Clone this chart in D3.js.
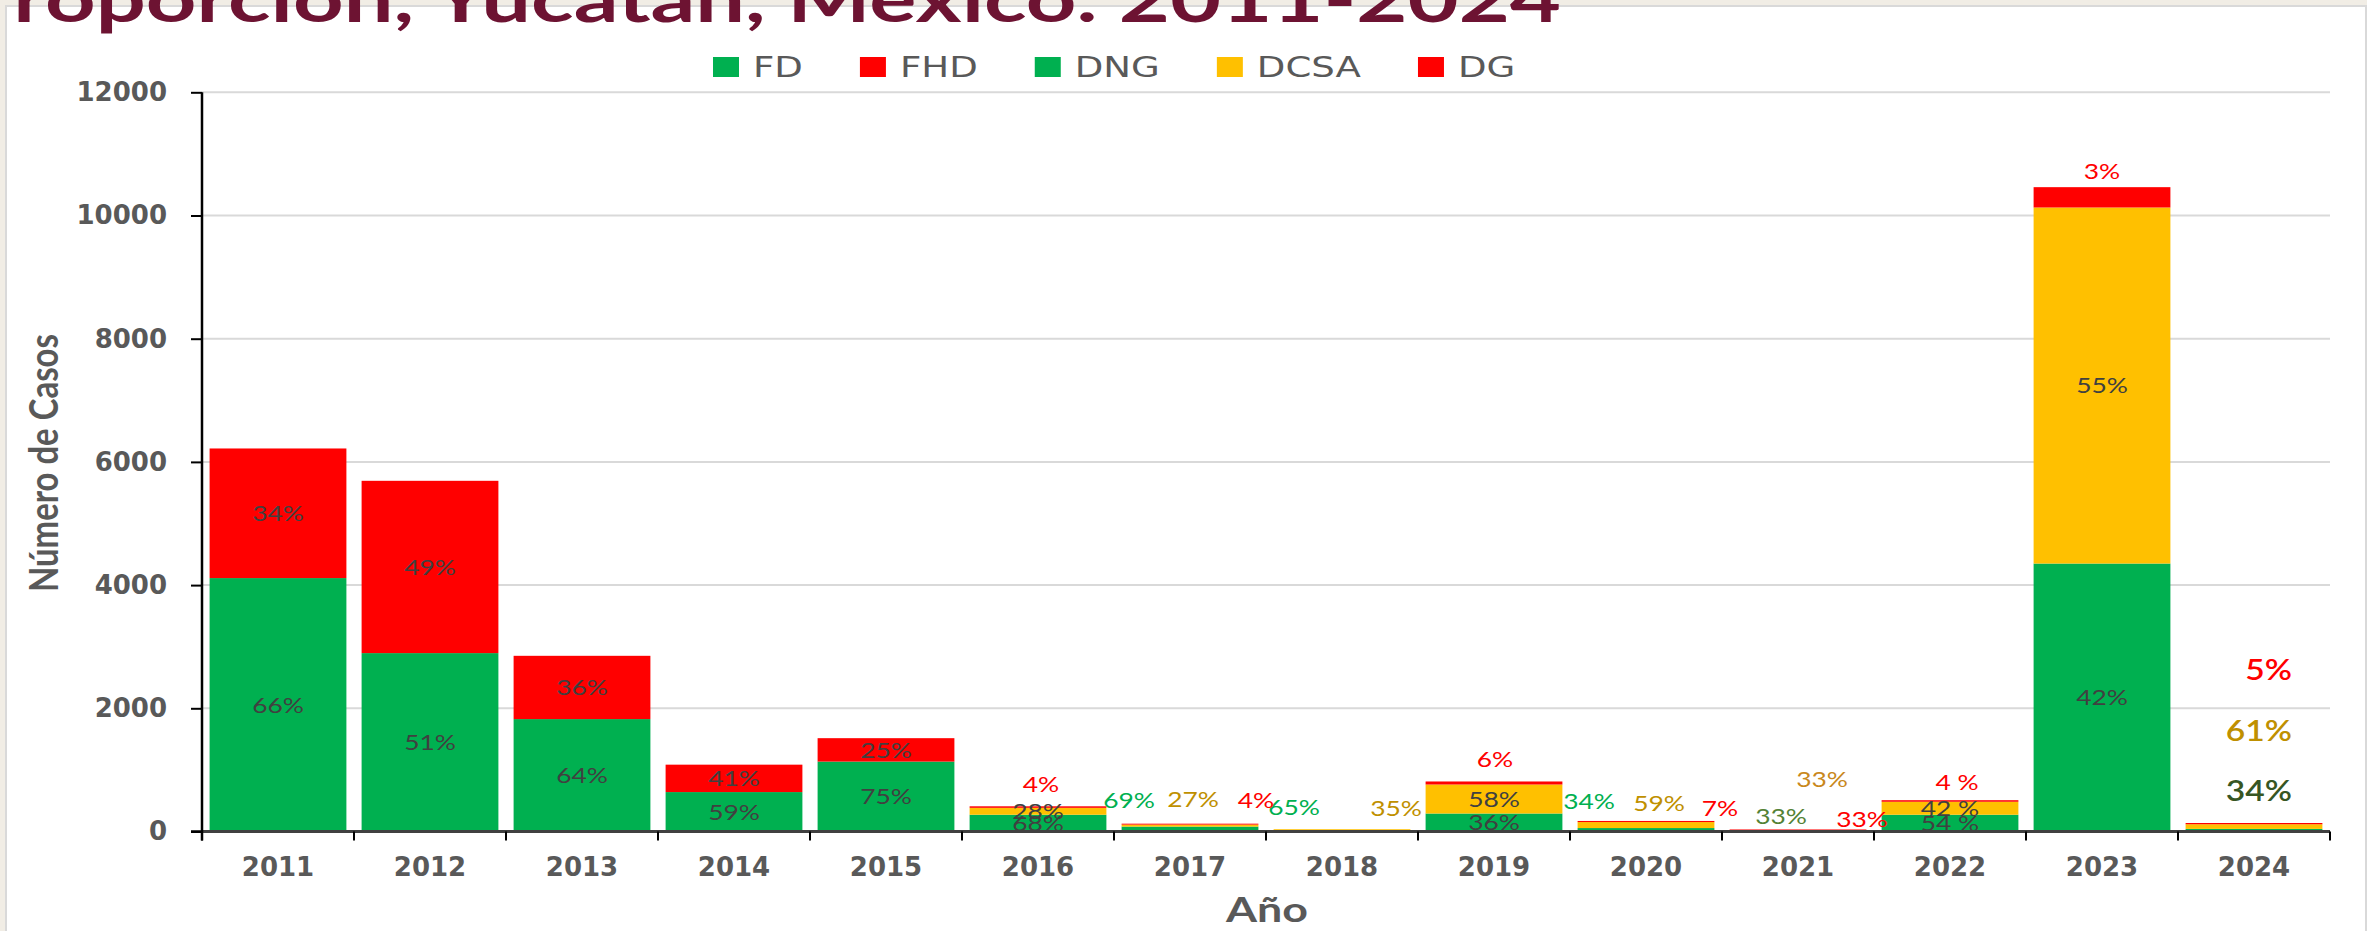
<!DOCTYPE html>
<html>
<head>
<meta charset="utf-8">
<script src="https://cdn.jsdelivr.net/npm/d3@7"></script>
<style>
  body { margin: 0; background: #fff; }
  svg { display: block; }
</style>
</head>
<body>
<div id="chart"></div>
<script>
// Casos por año, apilados por clasificación
const years = ["2011", "2012", "2013", "2014", "2015", "2016", "2017", "2018", "2019", "2020", "2021", "2022", "2023", "2024"];
const seriesKeys = ["FD", "FHD", "DNG", "DCSA", "DG"];

const fd   = [4114, 2896, 1825, 640, 1135, 0, 0, 0, 0, 0, 0, 0, 0, 0];
const fhd  = [2104, 2797, 1027, 445, 380, 0, 0, 0, 0, 0, 0, 0, 0, 0];
const dng  = [0, 0, 0, 0, 0, 272, 80, 24, 292, 56, 11, 272, 4350, 42];
const dcsa = [0, 0, 0, 0, 0, 112, 32, 13, 471, 97, 11, 211, 5780, 76];
const dg   = [0, 0, 0, 0, 0, 25, 15, 0, 49, 18, 11, 25, 330, 20];

// etiquetas de porcentaje tal como aparecen
const pctFD   = ["66%", "51%", "64%", "59%", "75%", "", "", "", "", "", "", "", "", ""];
const pctFHD  = ["34%", "49%", "36%", "41%", "25%", "", "", "", "", "", "", "", "", ""];
const pctDNG  = ["", "", "", "", "", "68%", "69%", "65%", "36%", "34%", "33%", "54 %", "42%", "34%"];
const pctDCSA = ["", "", "", "", "", "28%", "27%", "35%", "58%", "59%", "33%", "42 %", "55%", "61%"];
const pctDG   = ["", "", "", "", "", "4%", "4%", "", "6%", "7%", "33%", "4 %", "3%", "5%"];

const yTicks = [0, 2000, 4000, 6000, 8000, 10000, 12000];

const colors = { FD: "#00b050", FHD: "#ff0000", DNG: "#00b050", DCSA: "#ffc000", DG: "#ff0000" };

// labels drawn outside their segment (layout only): offset from bar centre / bar top
const outside = {
  "2016|DG":   { dx: 3,   dy: -22, fill: "#ff0000" },
  "2017|DNG":  { dx: -61, dy: -24, fill: "#00b050" },
  "2017|DCSA": { dx: 3,   dy: -25, fill: "#bf9000" },
  "2017|DG":   { dx: 66,  dy: -24, fill: "#ff0000" },
  "2018|DNG":  { dx: -48, dy: -22, fill: "#00b050" },
  "2018|DCSA": { dx: 54,  dy: -21, fill: "#bf9000" },
  "2019|DG":   { dx: 1,   dy: -22, fill: "#ff0000" },
  "2020|DNG":  { dx: -57, dy: -20, fill: "#00b050" },
  "2020|DCSA": { dx: 13,  dy: -18, fill: "#bf9000" },
  "2020|DG":   { dx: 74,  dy: -13, fill: "#ff0000" },
  "2021|DNG":  { dx: -17, dy: -13, fill: "#548235" },
  "2021|DCSA": { dx: 24,  dy: -50, fill: "#c9881c" },
  "2021|DG":   { dx: 64,  dy: -10, fill: "#ff0000" },
  "2022|DG":   { dx: 7,   dy: -18, fill: "#ff0000" },
  "2023|DG":   { dx: 0,   dy: -16, fill: "#ff0000" },
  "2024|DNG":  { dx: 38,  dy: -32,  fill: "#375623", anchor: "end", size: 28, weight: 600 },
  "2024|DCSA": { dx: 38,  dy: -92,  fill: "#bf9000", anchor: "end", size: 28, weight: 600 },
  "2024|DG":   { dx: 38,  dy: -153, fill: "#ff0000", anchor: "end", size: 28, weight: 600 }
};

const W = 2379, H = 931;
const svg = d3.select("#chart").append("svg").attr("width", W).attr("height", H);

// page background and chart frame
svg.append("rect").attr("width", W).attr("height", H).attr("fill", "#f1ede5");
svg.append("rect").attr("x", 6).attr("y", 6).attr("width", 2360).attr("height", 940)
  .attr("fill", "#fff").attr("stroke", "#d9d9d9").attr("stroke-width", 2);
svg.append("rect").attr("x", 2367).attr("y", 0).attr("width", 12).attr("height", H).attr("fill", "#fff");

const table = years.map((y, i) => ({ year: y, FD: fd[i], FHD: fhd[i], DNG: dng[i], DCSA: dcsa[i], DG: dg[i] }));
const pct = { FD: pctFD, FHD: pctFHD, DNG: pctDNG, DCSA: pctDCSA, DG: pctDG };

const x = d3.scaleBand().domain(years).range([202, 2330]).paddingInner(0.1).paddingOuter(0.05);
const y = d3.scaleLinear().domain([0, 12000]).range([831.5, 92.3]);

// grid
svg.append("g").selectAll("line").data(yTicks.filter(d => d > 0)).join("line")
  .attr("x1", 202).attr("x2", 2330)
  .attr("y1", d => y(d)).attr("y2", d => y(d))
  .attr("stroke", "#d9d9d9").attr("stroke-width", 2);

// stacked bars
const stacked = d3.stack().keys(seriesKeys)(table);
const layers = svg.append("g").selectAll("g").data(stacked).join("g")
  .attr("fill", d => colors[d.key]);
layers.selectAll("rect").data(d => d.map(p => ({ p, key: d.key }))).join("rect")
  .attr("x", d => x(d.p.data.year))
  .attr("width", x.bandwidth())
  .attr("y", d => y(d.p[1]))
  .attr("height", d => y(d.p[0]) - y(d.p[1]));

// axes
const y0 = y(0);
svg.append("line").attr("x1", 191).attr("x2", 2330).attr("y1", y0).attr("y2", y0)
  .attr("stroke", "#404040").attr("stroke-width", 3);
svg.append("line").attr("x1", 202).attr("x2", 202).attr("y1", y(12000)).attr("y2", y0 + 9)
  .attr("stroke", "#000").attr("stroke-width", 2.5);

const yAxis = d3.axisLeft(y).tickValues(yTicks).tickFormat(d3.format("d"))
  .tickSize(11).tickPadding(24).tickSizeOuter(0);
const gy = svg.append("g").attr("transform", "translate(202,0)").call(yAxis);
gy.select(".domain").remove();
gy.selectAll("line").attr("stroke", "#000").attr("stroke-width", 2);
gy.selectAll("text").attr("font-family", "DejaVu Sans").attr("font-weight", "bold")
  .attr("font-size", 26).attr("fill", "#595959");

const bounds = years.map(d => x(d) - x.step() * 0.05).concat([2330]);
svg.append("g").selectAll("line").data(bounds).join("line")
  .attr("x1", d => d).attr("x2", d => d).attr("y1", y0).attr("y2", y0 + 9)
  .attr("stroke", "#000").attr("stroke-width", 2);

const xAxis = d3.axisBottom(x).tickSize(0).tickPadding(26);
const gx = svg.append("g").attr("transform", `translate(0,${y0})`).call(xAxis);
gx.select(".domain").remove();
gx.selectAll("text").attr("font-family", "DejaVu Sans").attr("font-weight", "bold")
  .attr("font-size", 26).attr("fill", "#595959");

// axis titles
svg.append("text")
  .attr("transform", "translate(58,463) rotate(-90)")
  .attr("text-anchor", "middle")
  .attr("font-family", "Lato").attr("font-weight", "bold").attr("font-size", 40)
  .attr("fill", "#595959")
  .attr("textLength", 258).attr("lengthAdjust", "spacingAndGlyphs")
  .text("Número de Casos");

svg.append("text")
  .attr("x", 1226).attr("y", 922)
  .attr("font-family", "Lato").attr("font-weight", "bold").attr("font-size", 34)
  .attr("fill", "#595959")
  .attr("textLength", 82).attr("lengthAdjust", "spacingAndGlyphs")
  .text("Año");

// percentage labels
const labels = [];
stacked.forEach(layer => {
  layer.forEach((p, i) => {
    const txt = pct[layer.key][i];
    if (!txt) return;
    const yr = years[i];
    const cx = x(yr) + x.bandwidth() / 2;
    const o = outside[yr + "|" + layer.key];
    if (o) {
      const top = y(p.data.FD + p.data.FHD + p.data.DNG + p.data.DCSA + p.data.DG);
      labels.push({ txt, x: cx + o.dx, y: top + o.dy, fill: o.fill, anchor: o.anchor || "middle",
        size: o.size || 22, weight: o.weight || 400 });
    } else {
      labels.push({ txt, x: cx, y: (y(p[0]) + y(p[1])) / 2, fill: "#404040", anchor: "middle", size: 22, weight: 400 });
    }
  });
});
svg.append("g").selectAll("text").data(labels).join("text")
  .attr("transform", d => `translate(${d.x},${d.y}) scale(1.2,1)`)
  .attr("dy", "0.36em")
  .attr("text-anchor", d => d.anchor)
  .attr("font-family", "Lato").attr("font-size", d => d.size).attr("font-weight", d => d.weight)
  .attr("fill", d => d.fill)
  .text(d => d.txt);

// legend
const legend = svg.append("g").attr("font-family", "DejaVu Sans").attr("font-size", 29).attr("fill", "#595959");
let lx = 713;
seriesKeys.forEach(k => {
  legend.append("rect").attr("x", lx).attr("y", 57).attr("width", 26).attr("height", 20).attr("fill", colors[k]);
  const t = legend.append("text").attr("transform", `translate(${lx + 40},77) scale(1.28,1)`).text(k);
  lx += 40 + t.node().getComputedTextLength() * 1.28 + 57;
});

// title (top and first letter cut off by the slide frame)
svg.append("clipPath").attr("id", "titleClip")
  .append("rect").attr("x", 11).attr("y", 0).attr("width", W).attr("height", 60);
const title = svg.append("g").attr("clip-path", "url(#titleClip)").append("text")
  .attr("text-anchor", "end")
  .attr("font-family", "Lato").attr("font-weight", "bold").attr("font-size", 66)
  .attr("fill", "#6d1332")
  .text("Proporción, Yucatán, México. 2011-2024");
const tn = title.node();
const visible = tn.getComputedTextLength() - tn.getSubStringLength(0, 1);
title.attr("transform", `translate(1561,22) scale(${(1561 - 13) / visible},1)`);
</script>
</body>
</html>
